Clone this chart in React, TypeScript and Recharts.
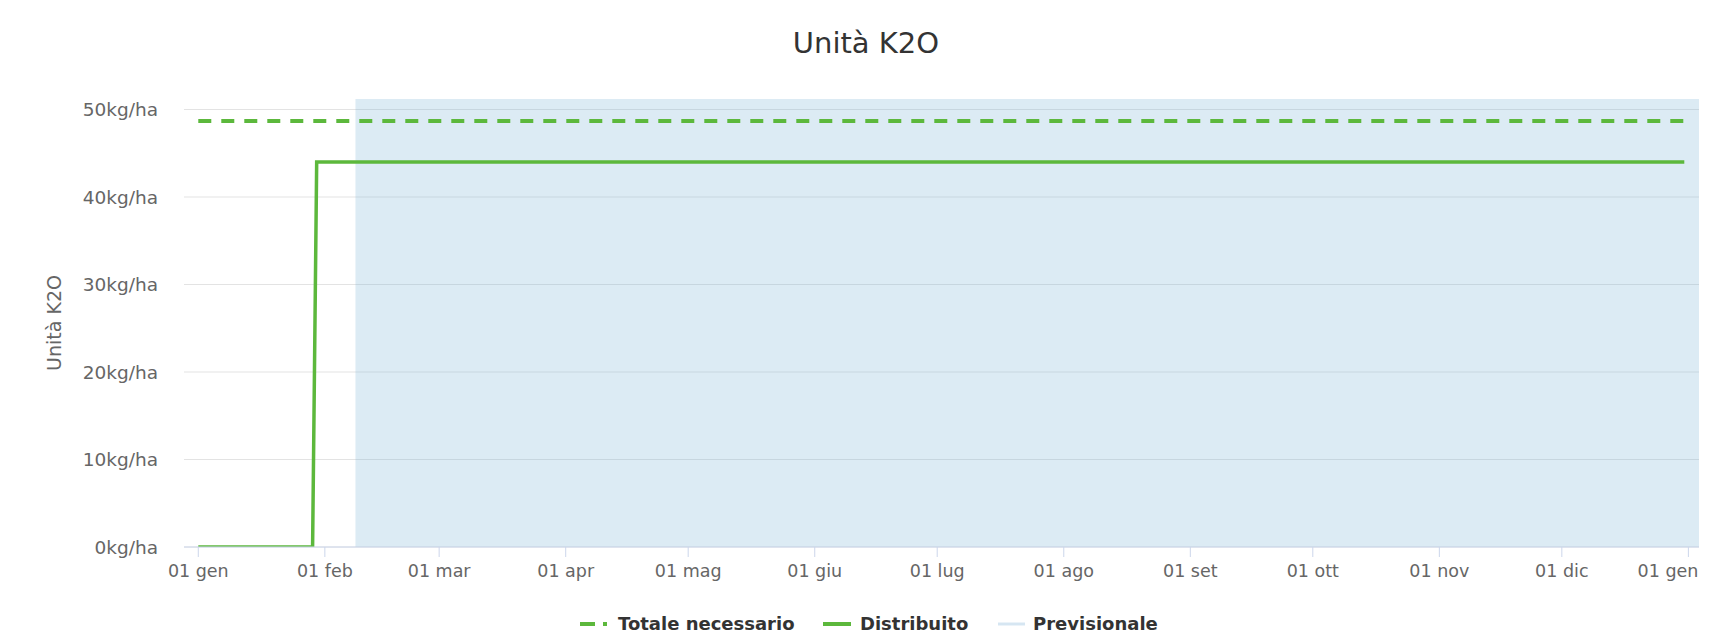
import { ComposedChart, Line, XAxis, YAxis, CartesianGrid, ReferenceArea } from "recharts";

// giorni dall'inizio dell'anno
const monthTicks = [0, 31, 59, 90, 120, 151, 181, 212, 243, 273, 304, 334, 365];
const monthLabels = [
  "01 gen", "01 feb", "01 mar", "01 apr", "01 mag", "01 giu",
  "01 lug", "01 ago", "01 set", "01 ott", "01 nov", "01 dic", "01 gen",
];
const yTicks = [0, 10, 20, 30, 40, 50];

const days = [0, 28, 29, 364];
const distribuito = [0, 0, 44, 44];
const totaleNecessario = [48.7, null, null, 48.7];
const previsionaleFrom = 38.5;

const xDomain = [-3.5, 367.6];
const yDomain = [0, 51.2];

const GREEN = "#5cb83c";
const BAND = "rgba(124,181,214,0.27)";
const FONT = "'DejaVu Sans', Verdana, sans-serif";

const data = days.map((d, i) => ({
  day: d,
  distribuito: distribuito[i],
  totale: totaleNecessario[i],
}));

const monthLabel = (v: number) => monthLabels[monthTicks.indexOf(v)] ?? "";

// l'ultima etichetta viene spostata a sinistra per non uscire dal grafico
const XTick = (props: any) => {
  const { x, y, payload } = props;
  const last = payload.value === monthTicks[monthTicks.length - 1];
  return (
    <text
      x={last ? x + 10 : x}
      y={y}
      dy="0.71em"
      textAnchor={last ? "end" : "middle"}
      fill="#666"
      fontSize={17.5}
      fontFamily={FONT}
    >
      {monthLabel(payload.value)}
    </text>
  );
};

const LegendItem = ({ left, textLeft, symbol, text }: { left: number; textLeft: number; symbol: any; text: string }) => (
  <>
    <div style={{ position: "absolute", left, top: 619, height: 10 }}>{symbol}</div>
    <span
      style={{
        position: "absolute",
        left: textLeft,
        top: 613,
        fontFamily: FONT,
        fontWeight: "bold",
        fontSize: 18,
        color: "#333",
        lineHeight: "22px",
        whiteSpace: "nowrap",
      }}
    >
      {text}
    </span>
  </>
);

export default function App() {
  return (
    <div style={{ position: "absolute", left: 0, top: 0, width: 1711, height: 638, background: "#fff" }}>
      <div
        style={{
          position: "absolute",
          left: 466,
          width: 800,
          top: 23,
          textAlign: "center",
          fontFamily: FONT,
          fontSize: 29,
          lineHeight: "40px",
          color: "#333",
        }}
      >
        Unità K2O
      </div>

      <ComposedChart width={1711} height={638} data={data} margin={{ top: 99, right: 12, bottom: 61, left: 0 }}>
        <CartesianGrid vertical={false} stroke="#e3e3e3" horizontalValues={yTicks} />
        <ReferenceArea x1={previsionaleFrom} x2={xDomain[1]} fill={BAND} fillOpacity={1} stroke="none" />
        <XAxis
          dataKey="day"
          type="number"
          domain={xDomain}
          ticks={monthTicks}
          allowDataOverflow
          height={30}
          stroke="#ccd6eb"
          tickSize={10}
          tickMargin={8}
          tick={<XTick />}
          interval={0}
        />
        <YAxis
          type="number"
          domain={yDomain}
          ticks={yTicks}
          allowDataOverflow
          width={184}
          axisLine={false}
          tickLine={false}
          tickSize={0}
          tickMargin={26}
          tickFormatter={(v: number) => `${v}kg/ha`}
          tick={{ fill: "#666", fontSize: 18.5, fontFamily: FONT }}
          label={{
            value: "Unità K2O",
            angle: -90,
            position: "insideLeft",
            offset: 54,
            textAnchor: "middle",
            style: { fill: "#666", fontSize: 19, fontFamily: FONT, textAnchor: "middle" },
          }}
        />
        <Line
          dataKey="totale"
          type="linear"
          stroke={GREEN}
          strokeWidth={4}
          strokeDasharray="13 10"
          dot={false}
          activeDot={false}
          connectNulls
          isAnimationActive={false}
        />
        <Line
          dataKey="distribuito"
          type="linear"
          stroke={GREEN}
          strokeWidth={3.5}
          dot={false}
          activeDot={false}
          isAnimationActive={false}
        />
      </ComposedChart>

      <LegendItem
        left={580}
        textLeft={618}
        text="Totale necessario"
        symbol={
          <svg width={28} height={10} style={{ display: "block" }}>
            <line x1={0} y1={5} x2={15} y2={5} stroke={GREEN} strokeWidth={4} />
            <line x1={23} y1={5} x2={27} y2={5} stroke={GREEN} strokeWidth={4} />
          </svg>
        }
      />
      <LegendItem
        left={823}
        textLeft={860}
        text="Distribuito"
        symbol={
          <svg width={28} height={10} style={{ display: "block" }}>
            <line x1={0} y1={5} x2={28} y2={5} stroke={GREEN} strokeWidth={4} />
          </svg>
        }
      />
      <LegendItem
        left={998}
        textLeft={1033}
        text="Previsionale"
        symbol={
          <svg width={28} height={10} style={{ display: "block" }}>
            <line x1={0} y1={5} x2={27} y2={5} stroke="#d6e6f2" strokeWidth={3} />
          </svg>
        }
      />
    </div>
  );
}
